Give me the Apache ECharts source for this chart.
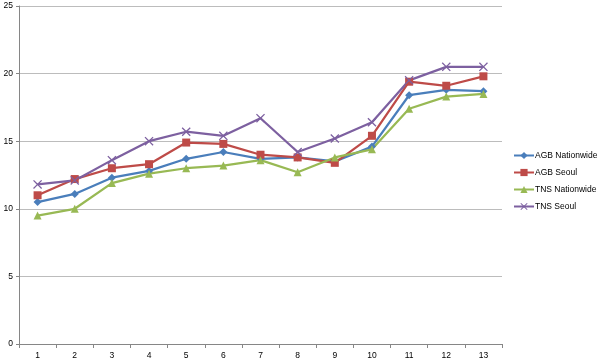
<!DOCTYPE html>
<html>
<head>
<meta charset="utf-8">
<script src="https://cdn.jsdelivr.net/npm/echarts@6/dist/echarts.min.js"></script>
<style>html,body{margin:0;padding:0;background:#fff}#c{width:600px;height:363px}</style>
</head>
<body>
<div id="c"></div>
<script>
const categories = ['1','2','3','4','5','6','7','8','9','10','11','12','13'];
const agbNationwide = [10.5, 11.1, 12.3, 12.8, 13.7, 14.2, 13.7, 13.8, 13.5, 14.6, 18.4, 18.8, 18.7];
const agbSeoul      = [11.0, 12.2, 13.0, 13.3, 14.9, 14.8, 14.0, 13.8, 13.4, 15.4, 19.4, 19.1, 19.8];
const tnsNationwide = [9.5, 10.0, 11.9, 12.6, 13.0, 13.2, 13.6, 12.7, 13.8, 14.4, 17.4, 18.3, 18.5];
const tnsSeoul      = [11.8, 12.1, 13.6, 15.0, 15.7, 15.4, 16.7, 14.2, 15.2, 16.4, 19.5, 20.5, 20.5];
const seriesNames = ['AGB Nationwide', 'AGB Seoul', 'TNS Nationwide', 'TNS Seoul'];

const xPath = 'path://M0,1L1,0L5,4L9,0L10,1L6,5L10,9L9,10L5,6L1,10L0,9L4,5Z';
const FONT = 'Liberation Sans';

function mk(name, data, color, symbol, size) {
  return {
    name: name, type: 'line', data: data,
    symbol: symbol, symbolSize: size, showSymbol: true,
    lineStyle: { color: color, width: 2.25 },
    itemStyle: { color: color },
    emphasis: { disabled: true },
    animation: false
  };
}

const chart = echarts.init(document.getElementById('c'));
chart.setOption({
  backgroundColor: '#fff',
  animation: false,
  grid: { left: 19, right: 98, top: 6, bottom: 19, containLabel: false },
  legend: {
    orient: 'vertical', left: 513, top: 151, padding: 0,
    itemWidth: 20, itemHeight: 9, itemGap: 8,
    textStyle: { fontFamily: FONT, fontSize: 8.5, color: '#000', padding: [0,0,0,-4] },
    data: seriesNames
  },
  xAxis: {
    type: 'category', data: categories, boundaryGap: true,
    axisLine: { lineStyle: { color: '#868686', width: 1 } },
    axisTick: { show: true, length: 4, alignWithLabel: false, lineStyle: { color: '#868686' } },
    axisLabel: { fontFamily: FONT, fontSize: 8.5, color: '#000', margin: 7 }
  },
  yAxis: {
    type: 'value', min: 0, max: 25, interval: 5,
    axisLine: { show: true, lineStyle: { color: '#868686', width: 1 } },
    axisTick: { show: true, length: 3, lineStyle: { color: '#868686' } },
    axisLabel: { fontFamily: FONT, fontSize: 8.5, color: '#000', margin: 6 },
    splitLine: { lineStyle: { color: '#bcbcbc', width: 1 } }
  },
  series: [
    mk(seriesNames[0], agbNationwide, '#4A7EBB', 'diamond', 8),
    mk(seriesNames[1], agbSeoul, '#BE4B48', 'rect', 8),
    mk(seriesNames[2], tnsNationwide, '#98B954', 'triangle', 8),
    mk(seriesNames[3], tnsSeoul, '#7D60A0', xPath, 9)
  ]
});
</script>
</body>
</html>
